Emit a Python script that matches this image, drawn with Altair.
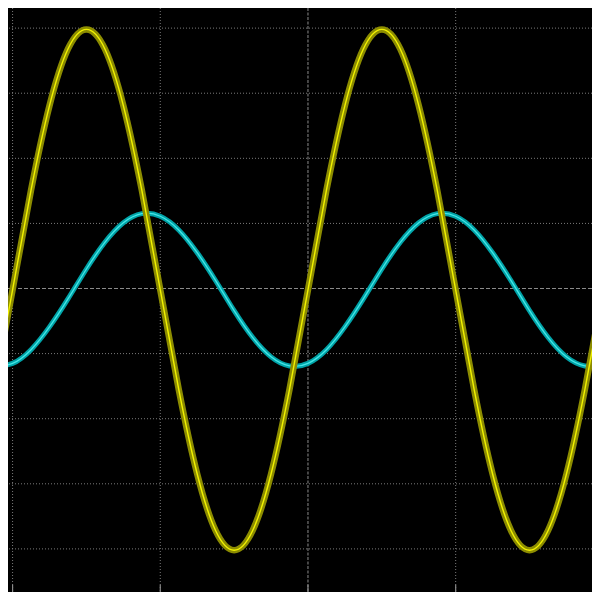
import pandas as pd
import altair as alt

# SCREEN DATA (divisions)
# -------------------------------------------
t_div = [-2.125, -2.0, -1.875, -1.75, -1.625, -1.5, -1.375, -1.25, -1.125,
         -1.0, -0.875, -0.75, -0.625, -0.5, -0.375, -0.25, -0.125,
         0.0, 0.125, 0.25, 0.375, 0.5, 0.625, 0.75, 0.875,
         1.0, 1.125, 1.25, 1.375, 1.5, 1.625, 1.75, 1.875, 2.0, 2.125]

ch1_yellow = [-1.55, -0.02, 1.51, 2.81, 3.68, 3.98, 3.68, 2.81, 1.51,
              -0.02, -1.55, -2.85, -3.72, -4.02, -3.72, -2.85, -1.55,
              -0.02, 1.51, 2.81, 3.68, 3.98, 3.68, 2.81, 1.51,
              -0.02, -1.55, -2.85, -3.72, -4.02, -3.72, -2.85, -1.55, -0.02, 1.51]

ch2_cyan = [-1.19, -1.15, -0.94, -0.59, -0.16, 0.30, 0.71, 1.01, 1.15,
            1.11, 0.90, 0.55, 0.12, -0.34, -0.75, -1.05, -1.19,
            -1.15, -0.94, -0.59, -0.16, 0.30, 0.71, 1.01, 1.15,
            1.11, 0.90, 0.55, 0.12, -0.34, -0.75, -1.05, -1.19, -1.15, -0.94]

# graticule
v_grid = [-2, -1, 1]
v_center = [0]
h_grid = [-4, -3, -2, -1, 1, 2, 3, 4]
h_center = [0]
tick_top = -4.55
tick_bottom = -4.9

traces = pd.DataFrame({'t': t_div, 'ch1': ch1_yellow, 'ch2': ch2_cyan})
ticks = pd.DataFrame({'x': v_grid + v_center})
ticks['y'] = tick_top
ticks['y2'] = tick_bottom

# visible window of the screen, in divisions
x_scale = alt.Scale(domain=[-2.031, 1.923], nice=False, zero=False)
y_scale = alt.Scale(domain=[-4.662, 4.309], nice=False, zero=False)

def xpos(field):
    return alt.X(field, scale=x_scale, axis=None)

def ypos(field):
    return alt.Y(field, scale=y_scale, axis=None)

# GRID
# ----
vdots = alt.Chart(pd.DataFrame({'x': v_grid})).mark_rule(
    color='#7a7a7a', strokeWidth=1, strokeDash=[1, 2]
).encode(x=xpos('x:Q'))

vdash = alt.Chart(pd.DataFrame({'x': v_center})).mark_rule(
    color='#8a8a8a', strokeWidth=1, strokeDash=[3, 1.5]
).encode(x=xpos('x:Q'))

hdots = alt.Chart(pd.DataFrame({'y': h_grid})).mark_rule(
    color='#7a7a7a', strokeWidth=1, strokeDash=[1, 2]
).encode(y=ypos('y:Q'))

hdash = alt.Chart(pd.DataFrame({'y': h_center})).mark_rule(
    color='#8a8a8a', strokeWidth=1, strokeDash=[4, 2]
).encode(y=ypos('y:Q'))

bottom_ticks = alt.Chart(ticks).mark_rule(
    color='#8a8a8a', strokeWidth=1.2, clip=True
).encode(x=xpos('x:Q'), y=ypos('y:Q'), y2='y2:Q')

# TRACES
# ------
base = alt.Chart(traces).encode(x=xpos('t:Q'))

cyan_glow = base.mark_line(color='#00a3a8', strokeWidth=5, interpolate='natural', clip=True).encode(y=ypos('ch2:Q'))
cyan_core = base.mark_line(color='#45e6e6', strokeWidth=1.3, interpolate='natural', clip=True).encode(y=ypos('ch2:Q'))
yellow_glow = base.mark_line(color='#8c8c00', strokeWidth=6.5, interpolate='natural', clip=True).encode(y=ypos('ch1:Q'))
yellow_core = base.mark_line(color='#f2f200', strokeWidth=1.4, interpolate='natural', clip=True).encode(y=ypos('ch1:Q'))

chart = alt.layer(
    vdots, vdash, hdots, hdash, bottom_ticks,
    cyan_glow, cyan_core, yellow_glow, yellow_core
).properties(
    width=584,
    height=584,
    padding=0,
    autosize=alt.AutoSizeParams(type='none'),
    background='#000000'
).configure_view(stroke=None, fill='#000000')

chart.save("out.html", embed_options={"renderer": "svg", "actions": False})
